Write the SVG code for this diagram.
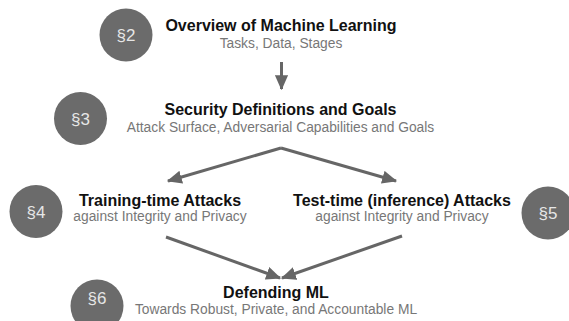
<svg xmlns="http://www.w3.org/2000/svg" width="569" height="321" viewBox="0 0 569 321">
<style>
.badge{fill:#6b6b6b}
.num{font-family:"Liberation Sans",Arial,sans-serif;font-size:17px;fill:#e6e6e6;text-anchor:middle}
.title{font-family:"Liberation Sans",Arial,sans-serif;font-size:16px;font-weight:bold;fill:#111;text-anchor:middle}
.sub{font-family:"Liberation Sans",Arial,sans-serif;font-size:13.8px;fill:#777;text-anchor:middle}
.edge{stroke:#666;stroke-width:3;fill:none}
</style>
<defs>
<marker id="ah" markerWidth="5" markerHeight="4.4" refX="4.6" refY="2.2" orient="auto" markerUnits="strokeWidth">
<path d="M0,0 L5,2.2 L0,4.4 Z" fill="#666"/>
</marker>
</defs>
<rect width="569" height="321" fill="#fff"/>
<g id="connectors">
<line class="edge" x1="281.5" y1="62" x2="281.5" y2="89" marker-end="url(#ah)"/>
<line class="edge" x1="281" y1="148" x2="168" y2="181" marker-end="url(#ah)"/>
<line class="edge" x1="281" y1="148" x2="396" y2="181" marker-end="url(#ah)"/>
<line class="edge" x1="166" y1="237" x2="280" y2="278" marker-end="url(#ah)"/>
<line class="edge" x1="402" y1="236" x2="282" y2="278" marker-end="url(#ah)"/>
</g>
<g id="n2">
<circle class="badge" cx="126" cy="35" r="26.5"/>
<text class="num" x="126" y="41">§2</text>
<text class="title" x="281" y="31">Overview of Machine Learning</text>
<text class="sub" x="281" y="48">Tasks, Data, Stages</text>
</g>
<g id="n3">
<circle class="badge" cx="80.5" cy="118.5" r="26.5"/>
<text class="num" x="80.5" y="124.5">§3</text>
<text class="title" x="280.5" y="115">Security Definitions and Goals</text>
<text class="sub" x="280.5" y="132">Attack Surface, Adversarial Capabilities and Goals</text>
</g>
<g id="n4">
<circle class="badge" cx="36" cy="211.5" r="26.5"/>
<text class="num" x="36" y="217.5">§4</text>
<text class="title" x="160" y="206">Training-time Attacks</text>
<text class="sub" x="160" y="221">against Integrity and Privacy</text>
</g>
<g id="n5">
<circle class="badge" cx="548" cy="213" r="26.5"/>
<text class="num" x="548" y="219">§5</text>
<text class="title" x="402" y="206">Test-time (inference) Attacks</text>
<text class="sub" x="402" y="221">against Integrity and Privacy</text>
</g>
<g id="n6">
<circle class="badge" cx="97" cy="306" r="26.5"/>
<text class="num" x="97" y="304">§6</text>
<text class="title" x="276" y="298">Defending ML</text>
<text class="sub" x="276" y="314">Towards Robust, Private, and Accountable ML</text>
</g>
</svg>
